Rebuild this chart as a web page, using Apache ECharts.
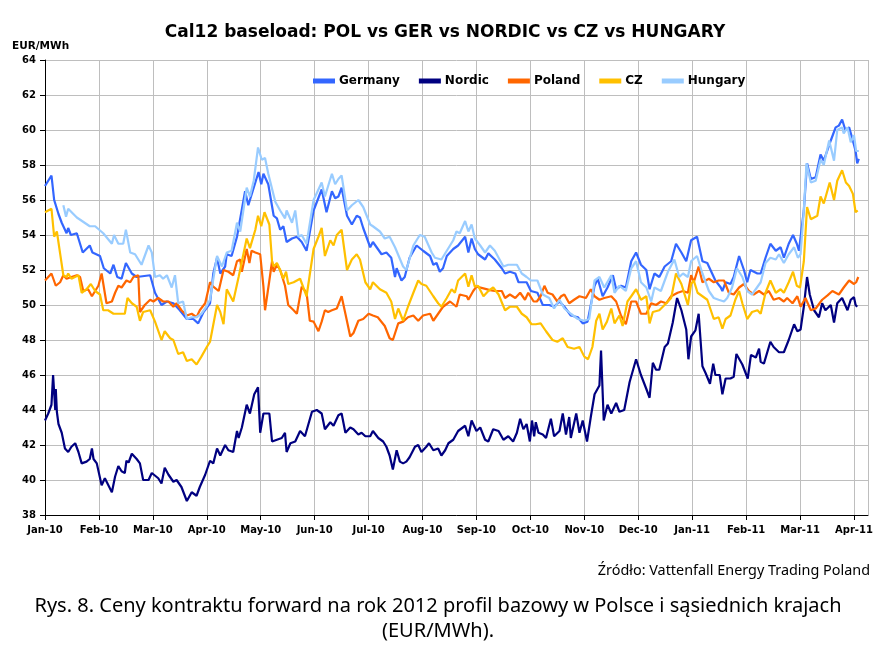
<!DOCTYPE html>
<html><head><meta charset="utf-8">
<script src="https://cdn.jsdelivr.net/npm/echarts@6/dist/echarts.min.js"></script>
<style>html,body{margin:0;padding:0;background:#fff}#c{width:887px;height:649px}</style>
</head><body><div id="c"></div>
<script>
// x = months since Jan-10 (0 = Jan-10, 15 = Apr-11)
const monthLabels = ['Jan-10','Feb-10','Mar-10','Apr-10','May-10','Jun-10','Jul-10','Aug-10','Sep-10','Oct-10','Nov-10','Dec-10','Jan-11','Feb-11','Mar-11','Apr-11'];
const yTicks = {min: 38, max: 64, step: 2};
const seriesNames = ['Germany','Nordic','Poland','CZ','Hungary'];

const germany = [[0,56.8],[0.12,57.4],[0.17,56.0],[0.2,55.9],[0.25,55.2],[0.31,54.7],[0.4,54.1],[0.43,54.4],[0.48,54.0],[0.59,54.1],[0.7,53.0],[0.83,53.4],[0.88,53.0],[1.02,52.8],[1.09,52.1],[1.21,51.8],[1.27,52.3],[1.34,51.6],[1.42,51.5],[1.5,52.4],[1.61,51.8],[1.7,51.6],[1.95,51.7],[2.04,50.7],[2.16,50.0],[2.26,50.2],[2.38,50.1],[2.5,49.7],[2.63,49.2],[2.75,49.2],[2.84,48.95],[2.94,49.6],[3.06,50.1],
[3.12,51.8],[3.19,52.7],[3.25,51.8],[3.34,52.2],[3.37,52.9],[3.46,52.8],[3.56,53.9],[3.59,53.8],[3.71,56.5],[3.77,55.7],[3.87,56.7],[3.96,57.6],[4.01,56.9],[4.05,57.5],[4.14,56.9],[4.24,55.1],[4.3,54.95],[4.36,54.3],[4.42,54.5],[4.48,53.6],[4.58,53.8],[4.67,53.9],[4.76,53.6],[4.85,53.1],[4.98,55.4],[5.13,56.6],[5.22,55.3],[5.32,56.5],[5.38,56.1],[5.44,56.2],[5.5,56.7],[5.6,55.1],[5.69,54.6],[5.78,55.1],[5.84,55.0],[5.9,54.4],[6.03,53.3],
[6.08,53.6],[6.24,52.9],[6.33,53.0],[6.42,52.7],[6.49,51.6],[6.52,52.1],[6.61,51.4],[6.67,51.6],[6.76,52.7],[6.89,53.4],[7.01,53.1],[7.14,52.8],[7.2,52.3],[7.26,52.4],[7.32,51.9],[7.38,52.1],[7.45,52.8],[7.57,53.2],[7.66,53.4],[7.79,53.9],[7.85,53.0],[7.91,53.8],[7.97,53.2],[8.03,52.9],[8.16,52.6],[8.22,52.95],[8.34,52.6],[8.47,52.1],[8.53,51.8],[8.62,51.9],[8.72,51.8],[8.78,51.3],[8.93,51.3],[9.01,50.8],
[9.13,50.7],[9.23,50.0],[9.35,50.0],[9.44,49.9],[9.54,50.2],[9.63,49.9],[9.75,49.4],[9.88,49.3],[9.97,48.95],[10.06,49.05],[10.19,51.1],[10.25,51.5],[10.34,50.5],[10.43,51.0],[10.53,51.7],[10.59,50.9],[10.68,51.1],[10.77,51.0],[10.87,52.5],[10.96,53.0],[11.05,52.3],[11.15,52.0],[11.21,50.9],[11.3,51.8],[11.39,51.6],[11.49,52.2],[11.61,52.5],[11.7,53.5],[11.8,53.0],[11.89,52.5],[11.98,53.7],
[12.09,53.9],[12.19,52.5],[12.28,52.4],[12.37,51.8],[12.43,51.4],[12.53,51.0],[12.56,50.8],[12.62,51.3],[12.71,51.2],[12.77,51.6],[12.87,52.8],[12.96,52.0],[13.02,51.3],[13.08,52.0],[13.21,51.8],[13.27,51.8],[13.36,52.7],[13.45,53.5],[13.55,53.1],[13.64,53.3],[13.7,52.7],[13.79,53.5],[13.87,54.0],[13.94,53.5],[13.98,53.1],[14.07,55.4],[14.13,58.1],[14.2,57.2],[14.29,57.3],[14.38,58.6],[14.44,58.25],[14.57,59.4],[14.66,60.15],[14.72,60.25],[14.78,60.6],[14.84,60.0],[14.91,60.15],[14.97,59.5],[15.03,58.8],[15.06,58.1],[15.09,58.35]];

const nordic = [[0,43.4],[0.06,43.8],[0.12,44.3],[0.15,46.0],[0.19,44.0],[0.2,45.2],[0.22,43.9],[0.25,43.2],[0.31,42.7],[0.37,41.8],[0.43,41.6],[0.49,41.9],[0.56,42.1],[0.62,41.6],[0.68,40.95],[0.77,41.05],[0.83,41.2],[0.87,41.8],[0.9,41.2],[0.96,40.95],[1.05,39.7],[1.11,40.1],[1.24,39.3],[1.3,40.2],[1.36,40.8],[1.42,40.5],[1.48,40.4],[1.51,41.1],[1.55,41.0],[1.61,41.5],[1.7,41.2],[1.76,40.95],[1.82,40.0],[1.92,40.0],[1.98,40.4],[2.1,40.1],[2.16,39.8],[2.22,40.7],[2.29,40.3],[2.38,39.9],[2.44,40.0],[2.53,39.6],[2.63,38.8],[2.72,39.3],[2.81,39.1],[2.87,39.6],[2.97,40.3],
[3.06,41.1],[3.12,40.95],[3.19,41.8],[3.25,41.4],[3.34,42.0],[3.4,41.7],[3.49,41.6],[3.56,42.8],[3.59,42.4],[3.65,43.0],[3.74,44.3],[3.8,43.8],[3.88,44.9],[3.95,45.3],[3.99,42.7],[4.05,43.8],[4.16,43.8],[4.21,42.2],[4.3,42.3],[4.39,42.4],[4.45,42.7],[4.48,41.6],[4.55,42.1],[4.64,42.2],[4.73,42.8],[4.82,42.5],[4.95,43.9],[5.04,44.0],[5.13,43.8],[5.19,42.9],[5.29,43.3],[5.35,43.1],[5.44,43.7],[5.5,43.8],[5.57,42.7],[5.66,43.0],[5.72,42.9],[5.81,42.6],[5.87,42.7],[5.94,42.5],[6.03,42.5],
[6.08,42.8],[6.18,42.4],[6.27,42.2],[6.33,41.9],[6.39,41.4],[6.45,40.6],[6.52,41.7],[6.58,41.05],[6.64,40.95],[6.7,41.05],[6.76,41.3],[6.86,41.9],[6.92,42.0],[6.98,41.6],[7.07,41.9],[7.12,42.1],[7.2,41.7],[7.29,41.8],[7.35,41.4],[7.42,41.7],[7.48,42.1],[7.57,42.3],[7.66,42.8],[7.79,43.1],[7.85,42.5],[7.91,43.4],[8.0,42.8],[8.07,43.0],[8.16,42.3],[8.22,42.2],[8.31,42.9],[8.41,42.8],[8.5,42.3],[8.59,42.5],[8.68,42.2],[8.75,42.7],[8.81,43.5],[8.87,42.9],[8.93,43.2],[8.99,42.2],[9.03,43.4],
[9.07,42.5],[9.1,43.3],[9.15,42.7],[9.23,42.6],[9.29,42.4],[9.38,43.5],[9.44,42.5],[9.54,42.8],[9.6,43.8],[9.66,42.6],[9.72,43.6],[9.75,42.4],[9.85,43.8],[9.91,42.7],[9.97,43.4],[10.05,42.2],[10.12,43.6],[10.19,44.9],[10.28,45.4],[10.31,47.4],[10.36,43.4],[10.43,44.3],[10.5,43.8],[10.59,44.4],[10.65,43.9],[10.74,44.0],[10.84,45.6],[10.96,46.9],[11.05,46.0],[11.15,45.2],[11.21,44.7],[11.27,46.7],[11.33,46.3],[11.39,46.3],[11.49,47.6],[11.55,47.8],[11.64,49.0],[11.72,50.4],[11.8,49.7],[11.89,48.6],[11.93,46.9],[11.98,48.2],
[12.06,48.55],[12.12,49.5],[12.19,46.5],[12.25,46.1],[12.33,45.5],[12.39,46.65],[12.43,46.0],[12.51,46.0],[12.56,44.9],[12.62,45.8],[12.71,45.8],[12.77,45.9],[12.82,47.2],[12.93,46.6],[13.03,45.8],[13.09,47.15],[13.18,47.0],[13.24,47.5],[13.27,46.75],[13.33,46.65],[13.45,47.9],[13.51,47.6],[13.61,47.3],[13.7,47.3],[13.79,48.0],[13.89,48.9],[13.95,48.5],[14.01,48.6],[14.07,49.9],[14.13,51.6],[14.18,50.6],[14.26,49.7],[14.35,49.3],[14.41,50.1],[14.47,49.7],[14.57,50.0],[14.63,49.0],[14.69,50.1],[14.78,50.4],[14.88,49.7],[14.94,50.3],[15.0,50.45],[15.03,50.0],[15.06,49.9]];

const poland = [[0,51.4],[0.12,51.8],[0.2,51.1],[0.28,51.3],[0.34,51.7],[0.4,51.5],[0.49,51.6],[0.59,51.7],[0.65,51.6],[0.71,50.8],[0.8,50.9],[0.87,50.5],[0.93,50.8],[0.99,51.1],[1.05,51.8],[1.08,51.7],[1.14,50.1],[1.24,50.2],[1.3,50.7],[1.36,51.1],[1.42,51.0],[1.51,51.4],[1.58,51.3],[1.64,51.6],[1.73,51.7],[1.76,49.6],[1.85,50.0],[1.95,50.3],[2.01,50.2],[2.1,50.4],[2.19,50.2],[2.29,50.2],[2.38,49.9],[2.44,50.1],[2.53,49.7],[2.63,49.4],[2.72,49.5],[2.81,49.3],[2.87,49.7],[2.97,50.1],
[3.06,51.3],[3.12,51.05],[3.22,50.8],[3.31,52.0],[3.4,51.9],[3.49,51.7],[3.56,52.5],[3.62,52.6],[3.65,51.9],[3.74,53.2],[3.79,52.4],[3.83,53.1],[3.9,53.0],[3.99,52.9],[4.05,51.05],[4.08,49.7],[4.16,51.4],[4.21,52.5],[4.24,51.9],[4.3,52.3],[4.36,52.0],[4.45,51.1],[4.51,50.0],[4.61,49.7],[4.67,49.5],[4.76,51.05],[4.85,50.7],[4.91,49.1],[4.98,49.05],[5.07,48.5],[5.13,49.05],[5.19,49.7],[5.25,49.6],[5.32,49.7],[5.41,49.8],[5.5,50.5],[5.57,49.5],[5.66,48.2],[5.72,48.4],[5.81,49.1],[5.9,49.2],[6.0,49.5],
[6.08,49.4],[6.17,49.3],[6.3,48.8],[6.39,48.1],[6.45,48.0],[6.55,48.95],[6.64,49.05],[6.73,49.3],[6.83,49.4],[6.92,49.1],[7.01,49.4],[7.14,49.5],[7.2,49.1],[7.29,49.5],[7.38,49.9],[7.51,50.2],[7.63,49.9],[7.69,50.6],[7.82,50.5],[7.85,50.3],[7.94,50.8],[8.0,51.05],[8.13,50.95],[8.25,50.85],[8.34,50.8],[8.47,50.8],[8.53,50.4],[8.62,50.6],[8.72,50.4],[8.81,50.7],[8.9,50.3],[8.96,50.7],[9.06,50.2],
[9.12,50.2],[9.19,50.5],[9.26,51.1],[9.32,50.7],[9.41,50.6],[9.5,50.2],[9.57,50.5],[9.63,50.6],[9.72,50.1],[9.81,50.3],[9.91,50.5],[10.03,50.4],[10.12,50.9],[10.19,50.5],[10.28,50.3],[10.37,50.4],[10.5,50.5],[10.59,50.2],[10.68,49.4],[10.77,48.9],[10.87,50.2],[10.96,50.2],[11.05,49.5],[11.15,49.5],[11.24,50.1],[11.33,50.0],[11.42,50.2],[11.52,50.1],[11.61,50.5],[11.73,50.7],[11.83,50.8],[11.92,50.7],[11.98,51.7],
[12.03,51.3],[12.12,52.2],[12.19,51.3],[12.31,51.5],[12.4,51.3],[12.49,51.4],[12.59,51.4],[12.68,50.7],[12.77,50.6],[12.87,51.0],[12.96,51.2],[13.05,50.8],[13.14,50.6],[13.24,50.8],[13.33,50.6],[13.42,50.8],[13.51,50.3],[13.61,50.4],[13.7,50.2],[13.76,50.4],[13.86,50.1],[13.95,50.5],[14.01,49.9],[14.1,50.4],[14.2,49.7],[14.29,49.8],[14.41,50.3],[14.51,50.55],[14.6,50.8],[14.72,50.6],[14.81,51.0],[14.91,51.4],[15.0,51.2],[15.04,51.3],[15.08,51.6]];

const cz = [[0,55.3],[0.12,55.5],[0.17,53.9],[0.22,54.2],[0.28,52.95],[0.34,51.7],[0.4,51.6],[0.43,51.8],[0.49,51.5],[0.62,51.7],[0.68,50.7],[0.77,50.9],[0.85,51.2],[0.93,50.8],[1.02,50.6],[1.08,49.7],[1.17,49.7],[1.27,49.5],[1.39,49.5],[1.48,49.5],[1.53,50.4],[1.61,50.1],[1.7,49.9],[1.76,49.1],[1.82,49.6],[1.95,49.7],[2.04,49.05],[2.16,48.0],[2.22,48.5],[2.32,48.1],[2.38,48.0],[2.47,47.2],[2.56,47.3],[2.63,46.8],[2.72,46.9],[2.81,46.6],[2.9,47.05],[3.0,47.6],[3.06,47.9],
[3.09,48.0],[3.19,50.0],[3.25,49.6],[3.31,48.9],[3.37,50.9],[3.49,50.2],[3.59,51.6],[3.62,51.6],[3.74,53.8],[3.8,53.25],[3.9,54.3],[3.95,55.1],[4.01,54.5],[4.07,55.3],[4.16,54.6],[4.21,52.5],[4.24,52.2],[4.3,52.4],[4.36,52.0],[4.42,51.5],[4.47,51.9],[4.51,51.2],[4.61,51.3],[4.73,51.5],[4.85,50.5],[4.98,53.2],[5.07,53.9],[5.13,54.4],[5.19,52.8],[5.29,53.7],[5.35,53.4],[5.41,54.0],[5.5,54.3],[5.6,52.0],[5.69,52.6],[5.78,52.9],[5.84,52.6],[5.94,51.3],[6.03,50.9],
[6.08,51.3],[6.21,50.9],[6.33,50.7],[6.42,50.2],[6.49,49.2],[6.55,49.8],[6.64,49.1],[6.73,49.9],[6.83,50.7],[6.92,51.4],[6.98,51.2],[7.07,51.1],[7.2,50.5],[7.29,50.1],[7.35,49.9],[7.45,50.4],[7.54,50.9],[7.6,50.7],[7.66,51.4],[7.79,51.8],[7.85,51.05],[7.91,51.7],[7.97,51.05],[8.03,51.1],[8.13,50.5],[8.22,50.8],[8.31,51.0],[8.41,50.6],[8.53,49.7],[8.62,49.9],[8.75,49.9],[8.84,49.5],[8.93,49.3],[9.02,48.9],
[9.1,48.9],[9.19,48.95],[9.29,48.5],[9.41,48.0],[9.5,47.9],[9.6,48.1],[9.69,47.6],[9.81,47.5],[9.91,47.6],[10.0,47.05],[10.07,46.9],[10.15,47.6],[10.22,49.1],[10.28,49.5],[10.34,48.6],[10.42,49.05],[10.5,49.8],[10.56,48.95],[10.65,49.4],[10.71,48.8],[10.8,50.2],[10.87,50.5],[10.96,50.9],[11.05,50.3],[11.15,50.5],[11.21,48.95],[11.27,49.6],[11.39,49.7],[11.52,50.1],[11.61,50.4],[11.7,51.8],[11.8,51.2],[11.92,50.0],[11.98,51.2],
[12.03,51.4],[12.1,50.7],[12.19,50.5],[12.28,50.3],[12.4,49.2],[12.49,49.3],[12.56,48.65],[12.62,49.2],[12.71,49.4],[12.8,50.3],[12.87,50.8],[12.93,50.1],[13.02,49.2],[13.11,49.6],[13.21,49.7],[13.27,49.5],[13.36,50.7],[13.45,51.4],[13.55,50.7],[13.64,50.9],[13.7,50.7],[13.79,51.3],[13.87,51.9],[13.94,51.1],[14.0,51.0],[14.07,52.5],[14.13,55.6],[14.2,54.9],[14.32,55.1],[14.38,56.2],[14.44,55.8],[14.55,57.0],[14.63,56.0],[14.69,57.1],[14.78,57.7],[14.85,57.0],[14.91,56.8],[14.98,56.35],[15.03,55.3],[15.07,55.4]];

const hungary = [[0.34,55.7],[0.39,55.05],[0.43,55.5],[0.59,55.0],[0.83,54.5],[0.93,54.5],[1.08,54.1],[1.24,53.5],[1.28,54.0],[1.36,53.5],[1.45,53.5],[1.5,54.3],[1.58,53.0],[1.67,52.9],[1.79,52.3],[1.92,53.4],[1.98,53.0],[2.04,51.6],[2.13,51.7],[2.19,51.5],[2.26,51.7],[2.35,51.0],[2.41,51.7],[2.47,50.1],[2.56,50.2],[2.63,49.2],[2.72,49.3],[2.81,49.3],[2.9,49.5],[2.99,49.9],[3.06,50.3],
[3.09,50.9],[3.19,52.8],[3.28,52.2],[3.37,53.0],[3.46,53.1],[3.56,54.7],[3.62,54.2],[3.74,56.7],[3.8,56.2],[3.87,57.1],[3.95,59.0],[4.02,58.3],[4.08,58.4],[4.14,57.5],[4.27,55.9],[4.36,55.4],[4.45,54.95],[4.48,55.4],[4.58,54.7],[4.64,55.4],[4.7,53.9],[4.76,54.0],[4.85,53.5],[4.98,56.0],[5.13,57.0],[5.19,56.2],[5.32,57.5],[5.38,56.9],[5.44,57.2],[5.5,57.4],[5.6,55.4],[5.69,55.7],[5.81,56.0],[5.9,55.6],[6.03,54.6],
[6.08,54.5],[6.21,54.2],[6.3,53.8],[6.39,53.9],[6.49,53.3],[6.64,52.2],[6.7,52.0],[6.83,53.4],[6.95,54.0],[7.04,53.9],[7.17,53.0],[7.23,52.7],[7.35,52.6],[7.45,53.1],[7.57,53.7],[7.63,54.2],[7.69,54.1],[7.79,54.8],[7.85,54.2],[7.91,54.6],[7.97,53.8],[8.07,53.4],[8.16,53.0],[8.25,53.4],[8.34,53.1],[8.5,52.2],[8.59,52.3],[8.75,52.3],[8.84,51.8],[8.93,51.6],[9.01,51.4],
[9.13,51.4],[9.23,50.6],[9.35,50.4],[9.44,49.8],[9.54,50.3],[9.63,49.8],[9.75,49.5],[9.88,49.2],[10.0,49.1],[10.09,49.2],[10.19,51.4],[10.28,51.6],[10.37,51.0],[10.5,51.7],[10.56,50.7],[10.65,51.1],[10.77,50.8],[10.87,52.1],[10.96,52.5],[11.05,51.3],[11.15,51.0],[11.24,50.2],[11.3,51.0],[11.42,50.8],[11.55,51.9],[11.67,52.6],[11.76,51.6],[11.83,51.8],[11.92,51.6],[11.98,52.5],
[12.09,52.8],[12.19,51.8],[12.31,50.8],[12.4,50.4],[12.49,50.3],[12.59,50.2],[12.65,50.4],[12.74,51.0],[12.83,52.1],[12.93,51.6],[13.02,50.8],[13.11,50.6],[13.27,51.3],[13.36,52.4],[13.45,52.7],[13.55,52.6],[13.61,52.9],[13.7,52.4],[13.79,52.9],[13.89,53.3],[13.96,52.7],[14.01,52.9],[14.07,55.4],[14.12,58.1],[14.2,57.0],[14.29,57.1],[14.38,58.3],[14.44,58.0],[14.54,59.4],[14.63,58.25],[14.69,60.0],[14.78,60.15],[14.81,59.8],[14.88,60.15],[14.94,59.3],[15.0,59.7],[15.04,58.8],[15.09,58.8]];

const seriesData = [germany, nordic, poland, cz, hungary];
const colors = ['#3366FF','#000080','#FF6600','#FFC000','#99CCFF'];

const chart = echarts.init(document.getElementById('c'), null, {renderer: 'canvas'});
const BOLD = 'DejaVu Sans';
chart.setOption({
  animation: false,
  backgroundColor: '#ffffff',
  grid: {left: 45, right: 19, top: 60, bottom: 134, containLabel: false, outerBoundsMode: 'none'},
  legend: {
    data: seriesNames, left: 308, top: 70, icon: 'rect', itemWidth: 22, itemHeight: 5, itemGap: 19,
    textStyle: {fontFamily: BOLD, fontWeight: 'bold', fontSize: 12, color: '#000', padding: [0, 0, 0, -1]}
  },
  xAxis: {
    type: 'value', min: 0, max: 15.26, interval: 1,
    axisLine: {show: true, onZero: false, lineStyle: {color: '#000', width: 1}},
    axisTick: {show: true, length: 5, lineStyle: {color: '#000'}},
    axisLabel: {
      margin: 10, color: '#000', fontFamily: BOLD, fontWeight: 'bold', fontSize: 10,
      showMaxLabel: false,
      formatter: v => { const r = Math.round(v); return Math.abs(v - r) < 1e-6 && monthLabels[r] ? monthLabels[r] : ''; }
    },
    splitLine: {show: true, lineStyle: {color: '#BEBEBE', width: 1}}
  },
  yAxis: {
    type: 'value', min: yTicks.min, max: yTicks.max, interval: yTicks.step,
    axisLine: {show: true, lineStyle: {color: '#000', width: 1}},
    axisTick: {show: true, length: 5, lineStyle: {color: '#000'}},
    axisLabel: {margin: 9, color: '#000', fontFamily: BOLD, fontWeight: 'bold', fontSize: 10},
    splitLine: {show: true, lineStyle: {color: '#BEBEBE', width: 1}}
  },
  series: seriesNames.map((n, i) => ({
    name: n, type: 'line', data: seriesData[i], showSymbol: false, symbol: 'none',
    color: colors[i], lineStyle: {color: colors[i], width: 2.2}, z: 2 + i
  })),
  graphic: [
    {type: 'text', x: 445, y: 33, style: {text: 'Cal12 baseload: POL vs GER vs NORDIC vs CZ vs HUNGARY', font: 'bold 17px "DejaVu Sans"', fill: '#000', align: 'center', verticalAlign: 'middle'}},
    {type: 'text', x: 12, y: 46, style: {text: 'EUR/MWh', font: 'bold 10.5px "DejaVu Sans"', fill: '#000', align: 'left', verticalAlign: 'middle'}},
    {type: 'text', x: 870, y: 571, style: {text: 'Źródło: Vattenfall Energy Trading Poland', font: '14.4px "Noto Sans"', fill: '#000', align: 'right', verticalAlign: 'middle'}},
    {type: 'text', x: 438, y: 606, style: {text: 'Rys. 8. Ceny kontraktu forward na rok 2012 profil bazowy w Polsce i sąsiednich krajach', font: '20px "Noto Sans"', fill: '#000', align: 'center', verticalAlign: 'middle'}},
    {type: 'text', x: 438, y: 631, style: {text: '(EUR/MWh).', font: '20px "Noto Sans"', fill: '#000', align: 'center', verticalAlign: 'middle'}}
  ]
});
</script>
</body></html>
